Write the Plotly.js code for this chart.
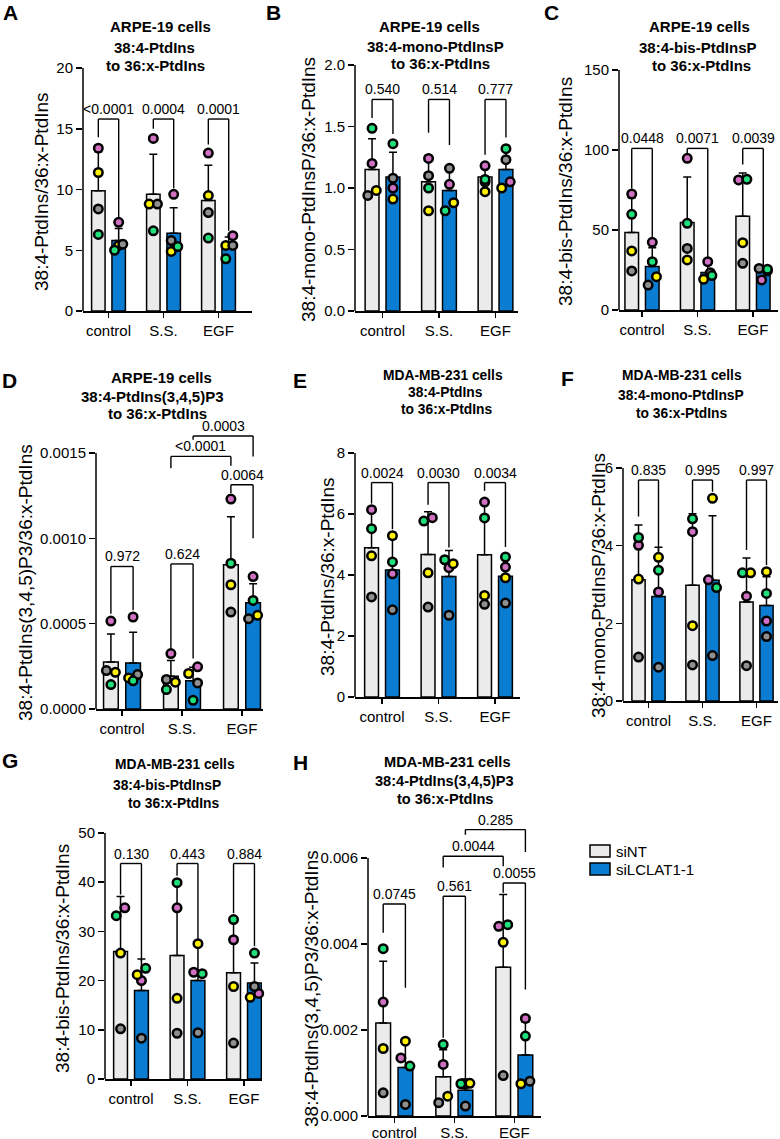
<!DOCTYPE html>
<html><head><meta charset="utf-8">
<script src="https://cdn.plot.ly/plotly-3.0.1.min.js"></script>
<style>body{margin:0;background:#fff}#chart{width:780px;height:1139px}</style>
</head><body><div id="chart"></div>
<script>
// ---------- DATA ----------
const groups = ['control', 'S.S.', 'EGF'];
const seriesNames = ['siNT', 'siLCLAT1-1'];
// replicate order in every point list: [pink, yellow, grey, green]

// Panel A
const aTitle = ['ARPE-19 cells', '38:4-PtdIns', 'to 36:x-PtdIns'];
const aYTitle = '38:4-PtdIns/36:x-PtdIns';
const aTicks = [0, 5, 10, 15, 20];
const aTickText = ['0', '5', '10', '15', '20'];
const aMeanNT = [9.9, 9.6, 9.1];
const aSdNT = [3.2, 3.3, 2.9];
const aMeanLC = [5.8, 6.4, 5.3];
const aSdLC = [1.0, 2.1, 0.8];
const aPtsNT = [[13.4, 11.4, 8.4, 6.3], [14.2, 8.8, 8.8, 6.6], [13.0, 9.5, 8.1, 6.0]];
const aPtsLC = [[7.3, 5.4, 5.5, 5.0], [9.6, 4.9, 5.8, 5.3], [6.2, 5.4, 5.4, 4.3]];
const aP = ['<0.0001', '0.0004', '0.0001'];

// Panel B
const bTitle = ['ARPE-19 cells', '38:4-mono-PtdInsP', 'to 36:x-PtdIns'];
const bYTitle = '38:4-mono-PtdInsP/36:x-PtdIns';
const bTicks = [0, 0.5, 1, 1.5, 2];
const bTickText = ['0.0', '0.5', '1.0', '1.5', '2.0'];
const bMeanNT = [1.15, 1.05, 1.09];
const bSdNT = [0.25, 0.2, 0.09];
const bMeanLC = [1.09, 0.98, 1.15];
const bSdLC = [0.2, 0.19, 0.15];
const bPtsNT = [[1.20, 0.98, 0.94, 1.485], [1.24, 0.815, 1.10, 1.00], [1.18, 0.97, 1.05, 1.07]];
const bPtsLC = [[1.00, 0.91, 1.08, 1.36], [1.03, 0.88, 1.16, 0.815], [1.05, 1.00, 1.23, 1.32]];
const bP = ['0.540', '0.514', '0.777'];

// Panel C
const cTitle = ['ARPE-19 cells', '38:4-bis-PtdInsP', 'to 36:x-PtdIns'];
const cYTitle = '38:4-bis-PtdIns/36:x-PtdIns';
const cTicks = [0, 50, 100, 150];
const cTickText = ['0', '50', '100', '150'];
const cMeanNT = [48.4, 54.7, 58.6];
const cSdNT = [21.7, 28.4, 27];
const cMeanLC = [27.2, 23.4, 24.2];
const cSdLC = [11.7, 4.7, 3.5];
const cPtsNT = [[72.5, 36.9, 24.4, 59.8], [94.8, 31.3, 38.5, 54.2], [81.3, 42.1, 29.2, 81.7]];
const cPtsLC = [[42.3, 20.8, 15.6, 30.2], [30.2, 19.2, 23.3, 21.5], [18.8, 24.4, 26.0, 25.5]];
const cP = ['0.0448', '0.0071', '0.0039'];

// Panel D
const dTitle = ['ARPE-19 cells', '38:4-PtdIns(3,4,5)P3', 'to 36:x-PtdIns'];
const dYTitle = '38:4-PtdIns(3,4,5)P3/36:x-PtdIns';
const dTicks = [0, 0.0005, 0.001, 0.0015];
const dTickText = ['0.0000', '0.0005', '0.0010', '0.0015'];
const dMeanNT = [0.000275, 0.000192, 0.000845];
const dSdNT = [0.000164, 0.000092, 0.000282];
const dMeanLC = [0.00027, 0.000165, 0.000622];
const dSdLC = [0.00018, 0.00008, 0.000112];
const dPtsNT = [[0.000515, 0.000215, 0.000225, 0.000143], [0.000325, 0.000157, 0.000173, 0.000114], [0.00123, 0.000728, 0.000568, 0.000854]];
const dPtsLC = [[0.000539, 0.000182, 0.000202, 0.000165], [0.000247, 0.000208, 0.000153, 0.000051], [0.000776, 0.000549, 0.000529, 0.000636]];
const dP = ['0.972', '0.624', '0.0064', '<0.0001', '0.0003'];

// Panel E
const eTitle = ['MDA-MB-231 cells', '38:4-PtdIns', 'to 36:x-PtdIns'];
const eYTitle = '38:4-PtdIns/36:x-PtdIns';
const eTicks = [0, 2, 4, 6, 8];
const eTickText = ['0', '2', '4', '6', '8'];
const eMeanNT = [4.89, 4.67, 4.66];
const eSdNT = [1.24, 1.4, 1.72];
const eMeanLC = [4.16, 3.95, 3.96];
const eSdLC = [1.01, 0.85, 0.65];
const ePtsNT = [[6.14, 4.63, 3.28, 5.52], [5.88, 4.07, 2.95, 5.77], [6.39, 3.33, 3.04, 5.87]];
const ePtsLC = [[4.04, 5.29, 2.86, 4.43], [4.24, 4.37, 2.68, 4.5], [4.26, 3.91, 3.08, 4.59]];
const eP = ['0.0024', '0.0030', '0.0034'];

// Panel F
const fTitle = ['MDA-MB-231 cells', '38:4-mono-PtdInsP', 'to 36:x-PtdIns'];
const fYTitle = '38:4-mono-PtdInsP/36:x-PtdIns';
const fTicks = [0, 2, 4, 6];
const fTickText = ['0', '2', '4', '6'];
const fMeanNT = [3.12, 2.98, 2.55];
const fSdNT = [1.41, 1.84, 1.13];
const fMeanLC = [2.69, 3.11, 2.46];
const fSdLC = [1.27, 1.66, 0.74];
const fPtsNT = [[4.01, 3.14, 1.13, 4.21], [4.36, 1.94, 0.93, 4.69], [2.70, 3.30, 0.91, 3.30]];
const fPtsLC = [[2.81, 3.70, 0.87, 3.37], [3.12, 5.22, 1.17, 2.92], [2.06, 3.33, 1.66, 2.77]];
const fP = ['0.835', '0.995', '0.997'];

// Panel G
const gTitle = ['MDA-MB-231 cells', '38:4-bis-PtdInsP', 'to 36:x-PtdIns'];
const gYTitle = '38:4-bis-PtdIns/36:x-PtdIns';
const gTicks = [0, 10, 20, 30, 40, 50];
const gTickText = ['0', '10', '20', '30', '40', '50'];
const gMeanNT = [25.9, 25.1, 21.6];
const gSdNT = [11.2, 14.6, 11.2];
const gMeanLC = [18.0, 20.0, 19.5];
const gSdLC = [6.4, 7.6, 4.1];
const gPtsNT = [[34.8, 25.6, 10.2, 33.2], [34.8, 16.4, 9.3, 39.9], [28.3, 18.8, 7.3, 32.4]];
const gPtsLC = [[20.0, 21.2, 8.3, 22.5], [21.7, 27.5, 9.4, 21.4], [17.4, 16.6, 18.8, 25.6]];
const gP = ['0.130', '0.443', '0.884'];

// Panel H
const hTitle = ['MDA-MB-231 cells', '38:4-PtdIns(3,4,5)P3', 'to 36:x-PtdIns'];
const hYTitle = '38:4-PtdIns(3,4,5)P3/36:x-PtdIns';
const hTicks = [0, 0.002, 0.004, 0.006];
const hTickText = ['0.000', '0.002', '0.004', '0.006'];
const hMeanNT = [0.00216, 0.00091, 0.00346];
const hSdNT = [0.00144, 0.00063, 0.00169];
const hMeanLC = [0.00113, 0.00060, 0.00142];
const hSdLC = [0.00062, 0.00026, 0.00076];
const hPtsNT = [[0.00265, 0.00157, 0.00054, 0.00389], [0.0012, 0.00046, 0.00031, 0.00166], [0.00441, 0.00404, 0.00094, 0.00445]];
const hPtsLC = [[0.00135, 0.00174, 0.00027, 0.00116], [0.00075, 0.00076, 0.00023, 0.00075], [0.00227, 0.00075, 0.00081, 0.00186]];
const hP = ['0.0745', '0.561', '0.0055', '0.0044', '0.285'];

// ---------- LAYOUT / STYLE (positions in px of the 780x1139 page) ----------
const W = 780, H = 1139;
const FONT = 'Liberation Sans, Arial, Helvetica, sans-serif';
const BAR_OFF = 0.185, BAR_W = 0.245, JIT = 0.075;
const colNT = '#ebebeb', colLC = '#0a7cd2';
const repColors = ['#d070c2', '#fff200', '#8f8f8f', '#1fe07a'];

const panels = [
  {L:'A', title:aTitle, yt:aYTitle, tv:aTicks, tt:aTickText, mNT:aMeanNT, sNT:aSdNT, mLC:aMeanLC, sLC:aSdLC, pNT:aPtsNT, pLC:aPtsLC, pv:aP},
  {L:'B', title:bTitle, yt:bYTitle, tv:bTicks, tt:bTickText, mNT:bMeanNT, sNT:bSdNT, mLC:bMeanLC, sLC:bSdLC, pNT:bPtsNT, pLC:bPtsLC, pv:bP},
  {L:'C', title:cTitle, yt:cYTitle, tv:cTicks, tt:cTickText, mNT:cMeanNT, sNT:cSdNT, mLC:cMeanLC, sLC:cSdLC, pNT:cPtsNT, pLC:cPtsLC, pv:cP},
  {L:'D', title:dTitle, yt:dYTitle, tv:dTicks, tt:dTickText, mNT:dMeanNT, sNT:dSdNT, mLC:dMeanLC, sLC:dSdLC, pNT:dPtsNT, pLC:dPtsLC, pv:dP},
  {L:'E', title:eTitle, yt:eYTitle, tv:eTicks, tt:eTickText, mNT:eMeanNT, sNT:eSdNT, mLC:eMeanLC, sLC:eSdLC, pNT:ePtsNT, pLC:ePtsLC, pv:eP},
  {L:'F', title:fTitle, yt:fYTitle, tv:fTicks, tt:fTickText, mNT:fMeanNT, sNT:fSdNT, mLC:fMeanLC, sLC:fSdLC, pNT:fPtsNT, pLC:fPtsLC, pv:fP},
  {L:'G', title:gTitle, yt:gYTitle, tv:gTicks, tt:gTickText, mNT:gMeanNT, sNT:gSdNT, mLC:gMeanLC, sLC:gSdLC, pNT:gPtsNT, pLC:gPtsLC, pv:gP},
  {L:'H', title:hTitle, yt:hYTitle, tv:hTicks, tt:hTickText, mNT:hMeanNT, sNT:hSdNT, mLC:hMeanLC, sLC:hSdLC, pNT:hPtsNT, pLC:hPtsLC, pv:hP}
];

const geo = {
  A:{ax:83,  t0:108.5, sp:55,   rt:252, bot:311,  top:68,  rTop:null,    tx:[160,154,155], ty:[27,47,65],    ts:15,   let:[10,13],  yl:[42,192], so:0},
  B:{ax:355, t0:382.5, sp:56.5, rt:518, bot:311,  top:65,  rTop:null,    tx:[429,435,440], ty:[26,46,64],    ts:15,   let:[273,13], yl:[308,190], so:0},
  C:{ax:619, t0:642,   sp:55.5, rt:778, bot:310,  top:70,  rTop:null,    tx:[699,698,701], ty:[27,47,65],    ts:15,   let:[551,13], yl:[566,192], so:0},
  D:{ax:96,  t0:122,   sp:60,   rt:263, bot:709,  top:453, rTop:0.00172, tx:[161,152,157], ty:[377,396,413], ts:15,   let:[9,380],  yl:[25,583], so:0},
  E:{ax:355, t0:382,   sp:56.5, rt:520, bot:697,  top:453, rTop:null,    tx:[443,445,447], ty:[375,392,409], ts:13.8, let:[300,380], yl:[327,577], so:0},
  F:{ax:623, t0:648.5, sp:54,   rt:778, bot:701,  top:468, rTop:null,    tx:[682,681,682], ty:[375,395,413], ts:13.8, let:[567,378], yl:[598,586], so:0},
  G:{ax:105, t0:131,   sp:56.5, rt:262, bot:1079, top:833, rTop:null,    tx:[175,167,174], ty:[764,785,803], ts:13.8, let:[10,760], yl:[62,958], so:0},
  H:{ax:368, t0:394.3, sp:60,   rt:541, bot:1116, top:858, rTop:0.0068,  tx:[448,444,445], ty:[762,781,799], ts:14.6, let:[300,762], yl:[311,989], so:-3}
};

// point jitter (units of JIT) per group per replicate [pink, yellow, grey, green]
const jit = {
  A:{nt:[[0,0,0,0],[0,-1,1,0],[0,0,0,0]], lc:[[0,0,1,-1],[0,-0.6,-0.6,1],[1,-0.7,1,-0.7]]},
  B:{nt:[[0,1,-1,0],[0,0,0,0],[0,0,0,0]], lc:[[0,0,0,0],[0,1,0,-1],[1,-1,0,0]]},
  C:{nt:[[0,0,0,0],[0,0,0,0],[-1,0,0,1]], lc:[[0,1,-1,0],[0,-1,0.6,1],[-0.4,1,-1,1]]},
  D:{nt:[[0,1,-1,0],[0,1,-1,-1],[0,0,0,0]], lc:[[0,-1,1,0],[1,-1,1,0],[0,1,-1,0]]},
  E:{nt:[[0,0,0,0],[1,0,0,-1],[0,0,0,0]], lc:[[0,0,0,0],[0,1,0,-1],[0,0,0,0]]},
  F:{nt:[[0,0,0,0],[0,0,0,0],[0,1,0,-1]], lc:[[0,0,0,0],[-1,0,0,1],[0,0,0,0]]},
  G:{nt:[[1,0,0,-1],[0,0,0,0],[0,0,0,0]], lc:[[0,-1,0,1],[-1,0,0,1],[1,-1,0,0]]},
  H:{nt:[[0,0,0,0],[0,1,-1,0],[-1,0,0,1]], lc:[[-1,0,0,1],[0,1,0,-1],[0,-1,1,0]]}
};

// brackets: [group1, side1, group2, side2, legEnd1, legEnd2, top]  (side -1 siNT, +1 siLCLAT1-1)
const brk = {
  A:[[0,-1,0,1,14.3,7.6,15.8],[1,-1,1,1,15.0,10.1,15.8],[2,-1,2,1,13.7,6.6,15.8]],
  B:[[0,-1,0,1,1.57,1.44,1.72],[1,-1,1,1,1.45,1.35,1.72],[2,-1,2,1,1.27,1.41,1.72]],
  C:[[0,-1,0,1,76,45,101],[1,-1,1,1,97.5,32,101],[2,-1,2,1,91,28,101]],
  D:[[0,-1,0,1,0.000558,0.000578,0.000835],[1,-1,1,1,0.000354,0.000296,0.00085],[2,-1,2,1,0.001265,0.001,0.001314],[1,-1,2,-1,0.00141,0.001425,0.00148],[1,1,2,1,0.001578,0.00148,0.0016]],
  E:[[0,-1,0,1,6.34,5.5,7.03],[1,-1,1,1,6.3,4.9,7.03],[2,-1,2,1,6.76,4.92,7.03]],
  F:[[0,-1,0,1,4.75,3.85,5.69],[1,-1,1,1,4.83,5.39,5.69],[2,-1,2,1,3.89,3.5,5.69]],
  G:[[0,-1,0,1,37.5,23.9,43.8],[1,-1,1,1,41.3,28.3,43.8],[2,-1,2,1,33.7,27.0,43.8]],
  H:[[0,-1,0,1,0.00426,0.00298,0.00493],[1,-1,1,1,0.00182,0.00085,0.00511],[2,-1,2,1,0.00519,0.00294,0.00542],[1,-1,2,-1,0.00578,0.00581,0.00604],[1,1,2,1,0.00654,0.00614,0.00666]]
};

const legendGeo = {x0:590, x1:610, rows:[851, 869], h:12, tx:614};

// ---------- BUILD ----------
const traces = [], shapes = [], annotations = [];
const layout = {
  width: W, height: H, margin: {l:0, r:0, t:0, b:0},
  paper_bgcolor: '#fff', plot_bgcolor: 'rgba(0,0,0,0)',
  showlegend: false, barmode: 'overlay',
  font: {family: FONT, color: '#000', size: 15}
};
const line = {color:'#000', width:1.4};

panels.forEach((P, i) => {
  const g = geo[P.L];
  const xa = i ? 'x' + (i + 1) : 'x', ya = i ? 'y' + (i + 1) : 'y';
  const xk = i ? 'xaxis' + (i + 1) : 'xaxis', yk = i ? 'yaxis' + (i + 1) : 'yaxis';
  const yTop = P.tv[P.tv.length - 1];
  const rTop = g.rTop || yTop;
  const domTopPx = g.bot - (g.bot - g.top) * rTop / yTop;
  layout[xk] = {
    domain: [g.ax / W, g.rt / W], range: [(g.ax - g.t0) / g.sp, (g.rt - g.t0) / g.sp],
    anchor: ya, tickvals: [0, 1, 2], ticktext: groups, showline: true, linewidth: 1.5, linecolor: '#000',
    ticks: 'outside', ticklen: 5, tickwidth: 1.5, tickcolor: '#000', showgrid: false, zeroline: false,
    tickfont: {size: 15, family: FONT}, fixedrange: true, ticklabelstandoff: g.so
  };
  layout[yk] = {
    domain: [1 - g.bot / H, 1 - domTopPx / H], range: [0, rTop], anchor: xa,
    tickvals: P.tv, ticktext: P.tt, showline: false, ticks: 'outside', ticklen: 6, tickwidth: 1.5,
    tickcolor: '#000', showgrid: false, zeroline: false, tickfont: {size: 15, family: FONT}, fixedrange: true
  };
  // y axis line only up to the top tick
  shapes.push({type:'line', xref: xa + ' domain', yref: ya, x0: 0, x1: 0, y0: 0, y1: yTop, line:{color:'#000', width:1.5}});

  const mk = (mean, sd, side, color) => ({
    type: 'bar', x: [0, 1, 2], y: mean, xaxis: xa, yaxis: ya,
    offset: side * BAR_OFF - BAR_W / 2, width: BAR_W,
    marker: {color: color, line: {color: '#000', width: 1.5}},
    error_y: {type: 'data', symmetric: false, array: sd, arrayminus: [0, 0, 0], color: '#000', thickness: 1.5, width: 4},
    hoverinfo: 'skip'
  });
  traces.push(mk(P.mNT, P.sNT, -1, colNT));
  traces.push(mk(P.mLC, P.sLC, 1, colLC));

  const pts = (arr, side, jj) => {
    const xs = [], ys = [], cs = [];
    arr.forEach((grp, gi) => grp.forEach((v, r) => {
      xs.push(gi + side * BAR_OFF + jj[gi][r] * JIT); ys.push(v); cs.push(repColors[r]);
    }));
    return {type: 'scatter', mode: 'markers', x: xs, y: ys, xaxis: xa, yaxis: ya, cliponaxis: false,
      marker: {size: 8.5, color: cs, line: {color: '#000', width: 2.5}}, hoverinfo: 'skip'};
  };
  traces.push(pts(P.pNT, -1, jit[P.L].nt));
  traces.push(pts(P.pLC, 1, jit[P.L].lc));

  brk[P.L].forEach((b, k) => {
    const x1 = b[0] + b[1] * BAR_OFF, x2 = b[2] + b[3] * BAR_OFF;
    [[x1, b[4], x1, b[6]], [x1, b[6], x2, b[6]], [x2, b[6], x2, b[5]]].forEach(s => {
      shapes.push({type:'line', xref: xa, yref: ya, x0: s[0], y0: s[1], x1: s[2], y1: s[3], line: line});
    });
    annotations.push({xref: xa, yref: ya, x: (x1 + x2) / 2, y: b[6], yanchor: 'bottom', xanchor: 'center',
      text: P.pv[k], showarrow: false, font: {size: 14, family: FONT}, yshift: 0});
  });

  P.title.forEach((t, li) => {
    annotations.push({xref:'paper', yref:'paper', x: g.tx[li] / W, y: 1 - g.ty[li] / H, xanchor:'center', yanchor:'middle',
      text: '<b>' + t + '</b>', showarrow: false, font: {size: g.ts, family: FONT}});
  });
  annotations.push({xref:'paper', yref:'paper', x: g.let[0] / W, y: 1 - g.let[1] / H, xanchor:'center', yanchor:'middle',
    text: '<b>' + P.L + '</b>', showarrow: false, font: {size: 21, family: FONT}});
  annotations.push({xref:'paper', yref:'paper', x: g.yl[0] / W, y: 1 - g.yl[1] / H, xanchor:'center', yanchor:'middle',
    text: P.yt, textangle: -90, showarrow: false, font: {size: 19, family: FONT}});
});

// legend
seriesNames.forEach((n, k) => {
  const cy = legendGeo.rows[k];
  shapes.push({type:'rect', xref:'paper', yref:'paper', x0: legendGeo.x0 / W, x1: legendGeo.x1 / W,
    y0: 1 - (cy + legendGeo.h / 2) / H, y1: 1 - (cy - legendGeo.h / 2) / H,
    fillcolor: k ? colLC : colNT, line: {color:'#000', width: 1.5}});
  annotations.push({xref:'paper', yref:'paper', x: legendGeo.tx / W, y: 1 - cy / H, xanchor:'left', yanchor:'middle',
    text: n, showarrow: false, font: {size: 15, family: FONT}});
});

layout.shapes = shapes;
layout.annotations = annotations;
Plotly.newPlot('chart', traces, layout, {staticPlot: true, displayModeBar: false});
</script>
</body></html>
